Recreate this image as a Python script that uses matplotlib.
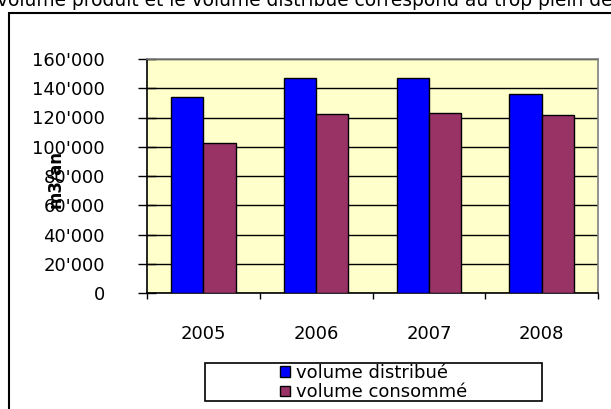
import matplotlib
matplotlib.use("Agg")
import matplotlib.pyplot as plt
from matplotlib.patches import Rectangle
from matplotlib.ticker import FuncFormatter, FixedLocator
import numpy as np

plt.rcParams['font.family'] = ['DejaVu Sans']

years = ["2005", "2006", "2007", "2008"]
vol_distribue = [134000, 147000, 147000, 136300]
vol_consomme = [102400, 122200, 123300, 121900]
series_labels = ["volume distribué", "volume consommé"]
y_ticks = [0, 20000, 40000, 60000, 80000, 100000, 120000, 140000, 160000]
title_text = "volume produit et le volume distribué correspond au trop plein de"
y_label = "m3/an"

W, H = 611, 409
fig = plt.figure(figsize=(W / 100, H / 100), dpi=100)

ax = fig.add_axes([147 / W, 1 - 293 / H, (598 - 147) / W, (293 - 59) / H])
ax.set_facecolor("#FFFFCC")

x = np.arange(len(years))
bw = 1 / 3.5
ax.bar(x - bw / 2, vol_distribue, bw, color="#0000FF", edgecolor="black", linewidth=1, zorder=3, label=series_labels[0])
ax.bar(x + bw / 2, vol_consomme, bw, color="#993366", edgecolor="black", linewidth=1, zorder=3, label=series_labels[1])

ax.set_xlim(-0.5, len(years) - 0.5)
ax.set_ylim(0, 160000)
ax.set_yticks(y_ticks)
ax.yaxis.set_major_formatter(FuncFormatter(lambda v, p: "0" if v == 0 else f"{int(v):,}".replace(",", "'")))
ax.yaxis.grid(True, color="black", linewidth=1, zorder=1)
ax.set_axisbelow(True)
ax.tick_params(axis="y", direction="inout", length=13, width=1, labelsize=13, pad=24, colors="black")

ax.set_xticks(x)
ax.set_xticklabels(years)
ax.xaxis.set_minor_locator(FixedLocator(np.arange(-0.5, len(years), 1.0)))
ax.tick_params(axis="x", which="major", length=0, pad=23, labelsize=13)
ax.tick_params(axis="x", which="minor", direction="out", length=4.5, width=1)

for s in ["left", "bottom"]:
    ax.spines[s].set_color("black")
    ax.spines[s].set_linewidth(1.2)
for s in ["top", "right"]:
    ax.spines[s].set_color("#808080")
    ax.spines[s].set_linewidth(1.2)

fig.text(55 / W, 1 - 179 / H, y_label, rotation=90, fontsize=12, fontweight="bold",
         ha="center", va="center")

# cropped title at top
fig.text(-3 / W, 1 - 6.5 / H, title_text, fontsize=13.45, ha="left", va="baseline")

# outer chart frame
fig.patches.append(Rectangle((9 / W, -0.2), 2.0, 1.2 - 12.7 / H, transform=fig.transFigure,
                             fill=False, edgecolor="black", linewidth=1.5))

# legend
leg = fig.legend(loc="center", bbox_to_anchor=(373.5 / W, 1 - 382.5 / H), ncol=1, frameon=False,
                 fontsize=13, handlelength=0.55, handleheight=0.55, handletextpad=0.3,
                 labelspacing=0.1, borderpad=0)
fig.patches.append(Rectangle((205 / W, 1 - 401 / H), (542 - 205) / W, 38 / H, transform=fig.transFigure,
                             fill=False, edgecolor="black", linewidth=1.2))

fig.savefig("out.png", dpi=100)
